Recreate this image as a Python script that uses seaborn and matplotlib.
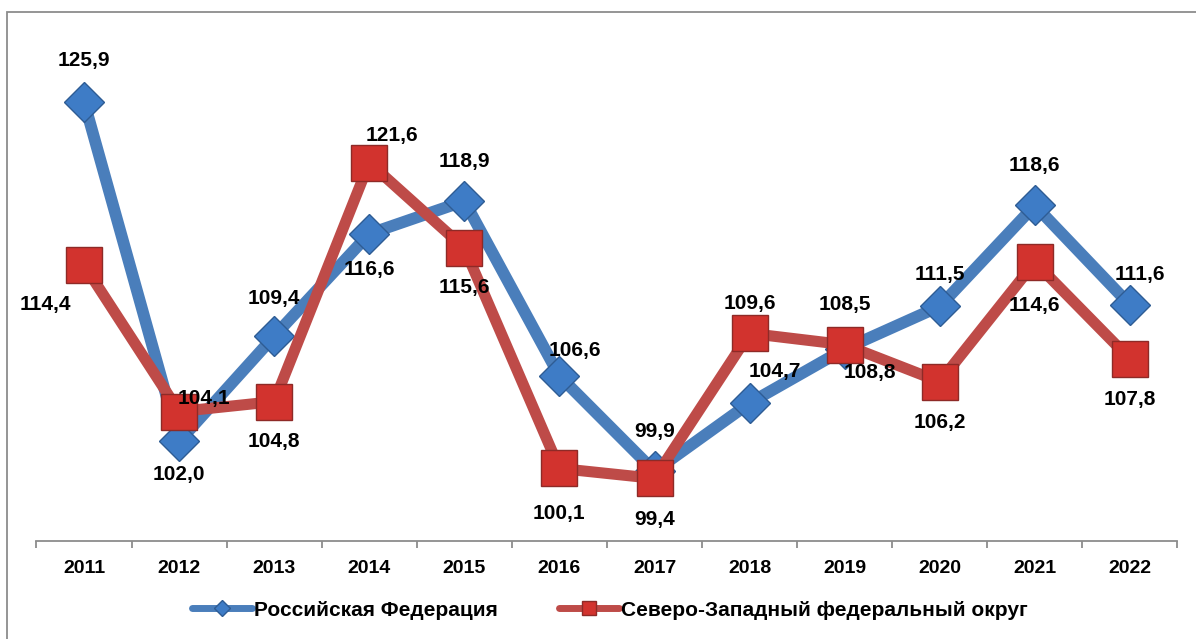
import pandas as pd
import seaborn as sns
import matplotlib.pyplot as plt
from matplotlib.lines import Line2D
from matplotlib.patches import Rectangle
from matplotlib.ticker import FixedLocator

years = [2011, 2012, 2013, 2014, 2015, 2016, 2017, 2018, 2019, 2020, 2021, 2022]
rf_values = [125.9, 102.0, 109.4, 116.6, 118.9, 106.6, 99.9, 104.7, 108.5, 111.5, 118.6, 111.6]
szfo_values = [114.4, 104.1, 104.8, 121.6, 115.6, 100.1, 99.4, 109.6, 108.8, 106.2, 114.6, 107.8]
series_names = ["Российская Федерация", "Северо-Западный федеральный округ"]

# label offsets in pixels (placement only)
rf_offsets = [(0, 41), (0, -33), (0, 38), (0, -36), (0, 40), (15, 25),
              (0, 40), (25, 32), (0, 44), (0, 32), (0, 40), (10, 30)]
szfo_offsets = [(-39, -39), (25, 13), (0, -40), (23, 27), (0, -40), (0, -45),
                (0, -41), (0, 30), (25, -28), (0, -41), (0, -43), (0, -41)]

sns.set_style("white")
plt.rcParams["font.family"] = ["Liberation Sans", "DejaVu Sans"]
plt.rcParams["text.color"] = "black"
plt.rcParams["xtick.color"] = "#8C8C8C"
plt.rcParams["xtick.labelcolor"] = "black"

blue_line = "#4A7EBB"
blue_mark = "#3E7CC6"
red_line = "#BE4B48"
red_mark = "#D2332E"

df_rf = pd.DataFrame({"year": years, "value": rf_values})
df_szfo = pd.DataFrame({"year": years, "value": szfo_values})

fig = plt.figure(figsize=(11.96, 6.39), dpi=100)
ax = fig.add_axes([0.0305, 0.1534, 0.954, 0.779])

sns.lineplot(data=df_rf, x="year", y="value", ax=ax, color=blue_line, linewidth=8.5,
             marker="D", markersize=20, markerfacecolor=blue_mark,
             markeredgecolor="#2E5C94", markeredgewidth=1, legend=False, zorder=3)
sns.lineplot(data=df_szfo, x="year", y="value", ax=ax, color=red_line, linewidth=8,
             marker="s", markersize=26, markerfacecolor=red_mark,
             markeredgecolor="#8E2A27", markeredgewidth=1, legend=False, zorder=4)

for yr, v, off in zip(years, rf_values, rf_offsets):
    ax.annotate(f"{v:.1f}".replace(".", ","), (yr, v), xytext=off,
                textcoords="offset pixels", ha="center", va="center",
                fontsize=15, fontweight="bold", color="black", zorder=6)
for yr, v, off in zip(years, szfo_values, szfo_offsets):
    ax.annotate(f"{v:.1f}".replace(".", ","), (yr, v), xytext=off,
                textcoords="offset pixels", ha="center", va="center",
                fontsize=15, fontweight="bold", color="black", zorder=6)

ax.set_xlim(years[0] - 0.5, years[-1] + 0.5)
ax.set_ylim(95, 130)
ax.set_xticks(years)
ax.set_xticklabels([str(y) for y in years], fontsize=14, fontweight="bold", color="black")
ax.xaxis.set_minor_locator(FixedLocator([y - 0.5 for y in years] + [years[-1] + 0.5]))
ax.tick_params(axis="x", which="major", length=0, pad=14)
ax.tick_params(axis="x", which="minor", bottom=True, length=5, width=1.3,
               color="#8C8C8C", direction="out")
ax.set_yticks([])
ax.set_xlabel("")
ax.set_ylabel("")
for side in ["left", "right", "top"]:
    ax.spines[side].set_visible(False)
ax.spines["bottom"].set_color("#8C8C8C")
ax.spines["bottom"].set_linewidth(1.3)

handles = [
    Line2D([], [], color=blue_line, linewidth=5, solid_capstyle="round",
           marker="D", markersize=8, markerfacecolor=blue_mark, markeredgecolor="#2E5C94"),
    Line2D([], [], color=red_line, linewidth=5, solid_capstyle="round",
           marker="s", markersize=10, markerfacecolor=red_mark, markeredgecolor="#8E2A27"),
]
leg = fig.legend(handles, series_names, loc="center", bbox_to_anchor=(0.51, 0.045),
                 ncol=2, frameon=False, handlelength=2.9, handletextpad=0.1,
                 columnspacing=2.9, prop={"size": 15, "weight": "bold"})
for t in leg.get_texts():
    t.set_color("black")

# outer chart border
fig.patches.append(Rectangle((7 / 1196, -0.1), 2.0, 1.1 - 12 / 639,
                             transform=fig.transFigure, fill=False,
                             edgecolor="#8C8C8C", linewidth=1.3, zorder=0))

fig.savefig("out.png", dpi=100)
